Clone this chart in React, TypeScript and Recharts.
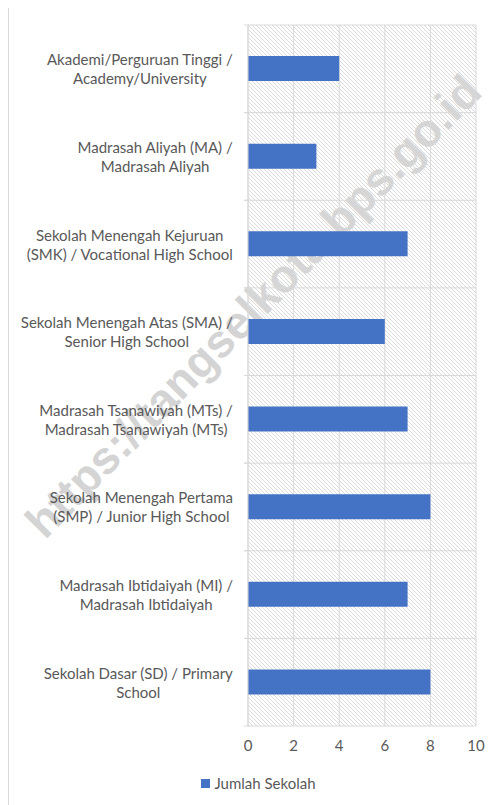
import React from "react";
import {
  BarChart,
  Bar,
  XAxis,
  YAxis,
  CartesianGrid,
  Legend,
} from "recharts";

const schoolTypes = [
  "Akademi/Perguruan Tinggi /\nAcademy/University",
  "Madrasah Aliyah (MA) /\nMadrasah Aliyah",
  "Sekolah Menengah Kejuruan\n(SMK) / Vocational High School",
  "Sekolah Menengah Atas (SMA) /\nSenior High School",
  "Madrasah Tsanawiyah (MTs) /\nMadrasah Tsanawiyah (MTs)",
  "Sekolah Menengah Pertama\n(SMP) / Junior High School",
  "Madrasah Ibtidaiyah (MI) /\nMadrasah Ibtidaiyah",
  "Sekolah Dasar (SD) / Primary\nSchool",
];
const schoolCounts = [4, 3, 7, 6, 7, 8, 7, 8];
const xTicks = [0, 2, 4, 6, 8, 10];
const seriesName = "Jumlah Sekolah";

const data = schoolTypes.map((name, i) => ({ name, value: schoolCounts[i] }));

const FONT = "Lato, 'Open Sans', sans-serif";
const TEXT = "#595959";
const GRID = "#d9d9d9";
const BLUE = "#4472c4";
const LABEL_SIZE = 15;

// measure text so each label block is right-aligned, lines centred within it
let ctx: CanvasRenderingContext2D | null = null;
function textWidth(s: string) {
  if (!ctx) ctx = document.createElement("canvas").getContext("2d");
  if (!ctx) return s.length * 7;
  ctx.font = `${LABEL_SIZE}px ${FONT}`;
  return ctx.measureText(s).width;
}

function CategoryTick(props: any) {
  const { x, y, payload } = props;
  const lines = String(payload.value).split("\n");
  const half = payload.offset || 43.8;
  const lh = 19;
  const startY = y - ((lines.length - 1) * lh) / 2;
  const maxW = Math.max(...lines.map(textWidth));
  const right = x - 7;
  const cx = right - maxW / 2;
  return (
    <g>
      <line x1={x + 4} x2={x + 9} y1={y - half} y2={y - half} stroke={GRID} />
      <line x1={x + 4} x2={x + 9} y1={y + half} y2={y + half} stroke={GRID} />
      <text
        x={cx}
        y={startY}
        textAnchor="middle"
        dominantBaseline="central"
        fill={TEXT}
        fontSize={LABEL_SIZE}
        fontFamily={FONT}
      >
        {lines.map((l, i) => (
          <tspan key={i} x={cx} y={startY + i * lh}>
            {l}
          </tspan>
        ))}
      </text>
    </g>
  );
}

function LegendContent() {
  return (
    <div
      style={{
        display: "flex",
        justifyContent: "center",
        alignItems: "center",
        paddingLeft: 32,
        fontFamily: FONT,
        fontSize: 15,
        color: TEXT,
        height: 20,
      }}
    >
      <span
        style={{
          width: 9,
          height: 9,
          background: BLUE,
          display: "inline-block",
          marginRight: 4,
        }}
      />
      {seriesName}
    </div>
  );
}

export default function App() {
  return (
    <div
      style={{
        position: "relative",
        marginTop: -3,
        width: 600,
        height: 820,
        border: `1px solid ${GRID}`,
        overflow: "hidden",
        background: "#fff",
      }}
    >
      <svg width={0} height={0} style={{ position: "absolute" }}>
        <defs>
          <pattern
            id="hatch"
            width={4}
            height={4}
            patternUnits="userSpaceOnUse"
          >
            <path d="M-1,-1 L5,5 M-1,3 L1,5 M3,-1 L5,1" stroke="#dadada" strokeWidth={1} />
          </pattern>
        </defs>
      </svg>
      <div
        style={{
          position: "absolute",
          left: 253 - 9,
          top: 306 - 6,
          width: "max-content",
          lineHeight: 1,
          transform: "translate(-50%, -50%) rotate(-45.5deg)",
          fontFamily: "'Liberation Sans', Arial, sans-serif",
          fontWeight: "bold",
          fontSize: 46,
          color: "#d4d4d4",
          whiteSpace: "nowrap",
          zIndex: 0,
        }}
      >
        https://tangselkota.bps.go.id
      </div>
      <div style={{ position: "relative", zIndex: 1 }}>
        <BarChart
          layout="vertical"
          width={486}
          height={799}
          data={data}
          margin={{ top: 19, right: 19, left: 0, bottom: 12 }}
        >
          <CartesianGrid
            stroke={GRID}
            fill="url(#hatch)"
            fillOpacity={1}
            horizontalCoordinatesGenerator={({ offset }: any) =>
              schoolTypes
                .map((_, i) => offset.top + (i * offset.height) / schoolTypes.length)
                .concat(offset.top + offset.height)
            }
          />
          <XAxis
            type="number"
            domain={[0, 10]}
            ticks={xTicks}
            axisLine={false}
            tickLine={false}
            tickMargin={8}
            height={47}
            tick={{ fill: TEXT, fontSize: 15, fontFamily: FONT }}
          />
          <YAxis
            type="category"
            dataKey="name"
            width={239}
            axisLine={{ stroke: GRID }}
            tickLine={false}
            interval={0}
            tick={<CategoryTick />}
          />
          <Legend verticalAlign="bottom" content={<LegendContent />} />
          <Bar
            dataKey="value"
            name={seriesName}
            fill={BLUE}
            barSize={25}
            isAnimationActive={false}
          />
        </BarChart>
      </div>
    </div>
  );
}
